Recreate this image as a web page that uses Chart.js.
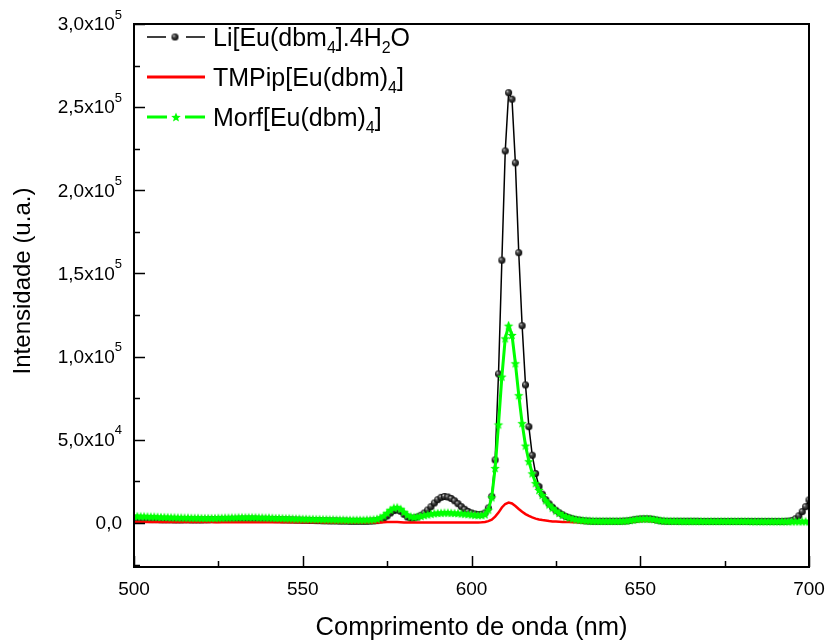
<!DOCTYPE html>
<html><head><meta charset="utf-8">
<script src="https://cdn.jsdelivr.net/npm/chart.js@4"></script>
<style>html,body{margin:0;padding:0;background:#fff}#wrap{width:828px;height:641px;position:relative}</style>
</head><body><div id="wrap"><canvas id="c" width="828" height="641"></canvas></div>
<script>
const wavelengths = [
500,501,502,503,504,505,506,507,508,509,
510,511,512,513,514,515,516,517,518,519,
520,521,522,523,524,525,526,527,528,529,
530,531,532,533,534,535,536,537,538,539,
540,541,542,543,544,545,546,547,548,549,
550,551,552,553,554,555,556,557,558,559,
560,561,562,563,564,565,566,567,568,569,
570,571,572,573,574,575,576,577,578,579,
580,581,582,583,584,585,586,587,588,589,
590,591,592,593,594,595,596,597,598,599,
600,601,602,603,604,605,606,607,608,609,
610,611,612,613,614,615,616,617,618,619,
620,621,622,623,624,625,626,627,628,629,
630,631,632,633,634,635,636,637,638,639,
640,641,642,643,644,645,646,647,648,649,
650,651,652,653,654,655,656,657,658,659,
660,661,662,663,664,665,666,667,668,669,
670,671,672,673,674,675,676,677,678,679,
680,681,682,683,684,685,686,687,688,689,
690,691,692,693,694,695,696,697,698,699,
700];

const liEu = [
2300,2200,2200,2100,2100,2000,2000,2000,1900,1900,
1900,1900,1800,1800,1800,1900,1900,1800,1800,1800,
1800,1900,1900,2000,2000,2000,2100,2100,2100,2200,
2200,2200,2300,2300,2300,2300,2300,2200,2200,2200,
2100,2100,2000,2000,1900,1900,1800,1800,1700,1700,
1600,1600,1500,1500,1400,1400,1300,1300,1200,1200,
1200,1100,1100,1100,1000,1000,1000,1000,1000,1000,
1100,1200,1400,1900,2800,4200,6000,7400,7800,7000,
5200,3600,2900,3000,3600,4600,6000,7800,9800,12000,
14000,15400,15900,15600,14700,13300,11600,9800,8200,6900,
6000,5400,5100,5200,6000,9000,16000,37900,89600,158000,
223700,258700,254800,216500,162500,118600,83000,57900,40700,29700,
21900,17300,14000,11500,9400,7600,6100,4900,3900,3100,
2500,2000,1700,1400,1200,1100,1000,1000,1000,1000,
1000,1000,1000,1000,1000,1100,1200,1500,1900,2200,
2400,2500,2500,2400,2100,1700,1300,1100,1000,1000,
1000,1000,1000,1000,1000,1000,1000,1000,900,900,
900,900,900,900,900,900,900,900,900,900,
900,900,900,900,900,900,900,900,900,900,
900,900,900,1000,1100,1500,2500,4300,6800,9800,
13800];

const tmpip = [
600,600,600,600,600,580,580,560,560,550,
550,540,540,530,530,520,520,510,510,500,
500,500,490,490,480,480,470,470,460,460,
460,450,450,450,440,440,430,430,420,420,
410,410,400,400,390,390,380,380,370,370,
360,360,350,350,340,340,330,330,320,320,
310,310,300,300,300,290,290,280,280,270,
270,260,260,300,400,500,550,550,500,400,
300,250,200,200,200,200,200,200,200,200,
200,200,200,200,200,200,200,200,200,200,
200,200,250,350,600,1100,2000,3800,6200,9300,
11400,12200,11700,10200,8400,6700,5300,4200,3300,2600,
2100,1700,1400,1100,900,800,700,600,550,500,
450,450,400,400,400,400,400,400,400,400,
400,400,400,400,400,450,550,700,900,1100,
1200,1300,1300,1200,1100,900,700,550,450,400,
400,400,400,400,400,400,400,400,400,400,
400,400,400,400,400,400,400,400,400,400,
400,400,400,400,400,400,400,400,400,400,
400,400,400,400,400,400,400,400,400,400,
400];

const morf = [
4200,4100,4000,4000,3900,3800,3800,3700,3600,3600,
3500,3400,3400,3300,3300,3200,3200,3100,3100,3100,
3000,3000,3000,3000,3000,3100,3100,3200,3200,3300,
3300,3400,3400,3400,3400,3400,3400,3300,3300,3200,
3200,3100,3000,3000,2900,2800,2800,2700,2600,2600,
2500,2500,2400,2400,2300,2300,2200,2200,2100,2100,
2000,2000,2000,1900,1900,1900,1900,1900,1900,2000,
2000,2200,2500,3200,4400,6100,7900,9200,9400,8500,
6700,4900,3900,3600,3800,4200,4700,5100,5500,5800,
6000,6100,6200,6200,6100,6000,5900,5700,5500,5300,
5100,4900,4700,4700,5200,8000,15400,33000,59200,88000,
111000,118600,113000,96000,76800,60000,46500,37100,29800,23900,
19800,16800,13600,11100,9100,7400,6000,4800,3900,3200,
2600,2200,1900,1700,1500,1400,1300,1300,1200,1200,
1200,1200,1200,1200,1200,1300,1400,1700,2000,2300,
2500,2600,2600,2500,2300,1900,1600,1400,1300,1200,
1200,1200,1100,1100,1100,1100,1100,1100,1100,1100,
1100,1100,1100,1100,1100,1100,1100,1100,1100,1100,
1100,1100,1100,1000,1000,1000,1000,1000,1000,1000,
1000,1000,1000,1000,1000,1000,1000,1000,1000,1000,
1000];

const xMajorTicks = [500,550,600,650,700];
const xMinorTicks = [525,575,625,675];
const yMajorTicks = [0,50000,100000,150000,200000,250000,300000];
const yMinorTicks = [-25000,25000,75000,125000,175000,225000,275000];
const yTickMantissa = ["0,0","5,0x10","1,0x10","1,5x10","2,0x10","2,5x10","3,0x10"];
const yTickExponent = ["","4","5","5","5","5","5"];

const legendItems = [
  {parts:[["Li[Eu(dbm",0],["4",1],["].4H",0],["2",1],["O",0]], kind:"black"},
  {parts:[["TMPip[Eu(dbm)",0],["4",1],["]",0]], kind:"red"},
  {parts:[["Morf[Eu(dbm)",0],["4",1],["]",0]], kind:"green"}
];

const FONT = '"Liberation Sans", Arial, Helvetica, sans-serif';

function makeSphere(r){
  const c = document.createElement('canvas');
  const s = Math.ceil(2*r+2); c.width = s; c.height = s;
  const g = c.getContext('2d');
  const cx = s/2, cy = s/2;
  const grd = g.createRadialGradient(cx-r*0.4, cy-r*0.4, 0.2, cx, cy, r);
  grd.addColorStop(0, '#e0e0e0');
  grd.addColorStop(0.3, '#555');
  grd.addColorStop(1, '#000');
  g.fillStyle = grd;
  g.beginPath(); g.arc(cx, cy, r, 0, Math.PI*2); g.fill();
  return c;
}
function makeStar(R, ri, color){
  const c = document.createElement('canvas');
  const s = Math.ceil(2*R+2); c.width = s; c.height = s;
  const g = c.getContext('2d');
  const cx = s/2, cy = s/2 + 0.5;
  g.fillStyle = color;
  g.beginPath();
  for (let i=0;i<10;i++){
    const a = -Math.PI/2 + i*Math.PI/5;
    const rr = (i%2===0)?R:ri;
    const px = cx + rr*Math.cos(a), py = cy + rr*Math.sin(a);
    if(i===0) g.moveTo(px,py); else g.lineTo(px,py);
  }
  g.closePath(); g.fill();
  return c;
}
const sphere = makeSphere(3.5);
const star = makeStar(5, 2.2, '#00ff00');

function pts(ys){ return wavelengths.map((w,i)=>({x:w, y:ys[i]})); }

const decor = {
  id:'decor',
  afterDraw(chart){
    const {ctx, chartArea:a} = chart;
    const x = chart.scales.x, y = chart.scales.y;
    ctx.save();
    ctx.strokeStyle = '#000'; ctx.lineWidth = 2;
    ctx.strokeRect(a.left, a.top, a.right-a.left, a.bottom-a.top);
    ctx.lineWidth = 1.5;
    ctx.beginPath();
    yMajorTicks.forEach(v=>{const p=Math.round(y.getPixelForValue(v))+0.5; ctx.moveTo(a.left,p); ctx.lineTo(a.left+11,p);});
    yMinorTicks.forEach(v=>{const p=Math.round(y.getPixelForValue(v))+0.5; ctx.moveTo(a.left,p); ctx.lineTo(a.left+6,p);});
    xMajorTicks.forEach(v=>{const p=Math.round(x.getPixelForValue(v))+0.5; ctx.moveTo(p,a.bottom); ctx.lineTo(p,a.bottom-11);});
    xMinorTicks.forEach(v=>{const p=Math.round(x.getPixelForValue(v))+0.5; ctx.moveTo(p,a.bottom); ctx.lineTo(p,a.bottom-6);});
    ctx.stroke();
    ctx.fillStyle = '#000';
    ctx.font = '19px ' + FONT;
    ctx.textAlign = 'center'; ctx.textBaseline = 'middle';
    xMajorTicks.forEach(v=>{ ctx.fillText(String(v), x.getPixelForValue(v), 590); });
    const rightEdge = a.left - 12;
    yMajorTicks.forEach((v,i)=>{
      const py = y.getPixelForValue(v);
      ctx.font = '13px ' + FONT;
      const ew = yTickExponent[i] ? ctx.measureText(yTickExponent[i]).width : 0;
      ctx.textAlign = 'right'; ctx.textBaseline = 'middle';
      if (yTickExponent[i]) ctx.fillText(yTickExponent[i], rightEdge, py - 9);
      ctx.font = '19px ' + FONT;
      ctx.fillText(yTickMantissa[i], rightEdge - ew, py + 1);
    });
    ctx.font = '25.5px ' + FONT;
    ctx.textAlign = 'center'; ctx.textBaseline = 'alphabetic';
    ctx.fillText('Comprimento de onda (nm)', (a.left+a.right)/2, 635);
    ctx.font = '24px ' + FONT;
    ctx.save();
    ctx.translate(30, 281); ctx.rotate(-Math.PI/2);
    ctx.fillText('Intensidade (u.a.)', 0, 0);
    ctx.restore();
    const rowsY = [37, 77, 117];
    const baseY = [46, 86, 126];
    legendItems.forEach((it, i)=>{
      const ly = rowsY[i];
      ctx.beginPath();
      if (it.kind === 'black'){
        ctx.strokeStyle = '#000'; ctx.lineWidth = 1.5;
        ctx.moveTo(147, ly); ctx.lineTo(166, ly);
        ctx.moveTo(186, ly); ctx.lineTo(205, ly);
        ctx.stroke();
        ctx.drawImage(sphere, 175 - sphere.width/2, ly - sphere.height/2);
      } else if (it.kind === 'red'){
        ctx.strokeStyle = '#ff0000'; ctx.lineWidth = 3;
        ctx.moveTo(147, ly); ctx.lineTo(205, ly); ctx.stroke();
      } else {
        ctx.strokeStyle = '#00ff00'; ctx.lineWidth = 3;
        ctx.moveTo(147, ly); ctx.lineTo(167, ly);
        ctx.moveTo(185, ly); ctx.lineTo(205, ly);
        ctx.stroke();
        ctx.drawImage(star, 176 - star.width/2, ly - star.height/2);
      }
      let tx = 213;
      ctx.fillStyle = '#000'; ctx.textAlign = 'left'; ctx.textBaseline = 'alphabetic';
      it.parts.forEach(([t, sub])=>{
        if (sub){ ctx.font = '16px ' + FONT; ctx.fillText(t, tx, baseY[i] + 7); }
        else { ctx.font = '25px ' + FONT; ctx.fillText(t, tx, baseY[i]); }
        tx += ctx.measureText(t).width;
      });
    });
    ctx.restore();
  }
};

new Chart(document.getElementById('c'), {
  type: 'line',
  data: {
    datasets: [
      {label:'Morf[Eu(dbm)4]', data: pts(morf), borderColor:'#00ff00', borderWidth:3, pointStyle: star, pointRadius: 5, order: 0, tension: 0},
      {label:'TMPip[Eu(dbm)4]', data: pts(tmpip), borderColor:'#ff0000', borderWidth:2.5, pointRadius: 0, order: 1, tension: 0},
      {label:'Li[Eu(dbm4].4H2O', data: pts(liEu), borderColor:'#000', borderWidth:1.5, pointStyle: sphere, pointRadius: 3.5, order: 2, tension: 0}
    ]
  },
  options: {
    responsive: false,
    animation: false,
    devicePixelRatio: 1,
    layout: {padding: {left:134, top:24, right:19, bottom:74}},
    scales: {
      x: {type:'linear', min:500, max:700, display:false},
      y: {type:'linear', min:-26500, max:300000, display:false}
    },
    plugins: {legend:{display:false}, tooltip:{enabled:false}},
    events: []
  },
  plugins: [decor]
});
</script>
</body></html>
